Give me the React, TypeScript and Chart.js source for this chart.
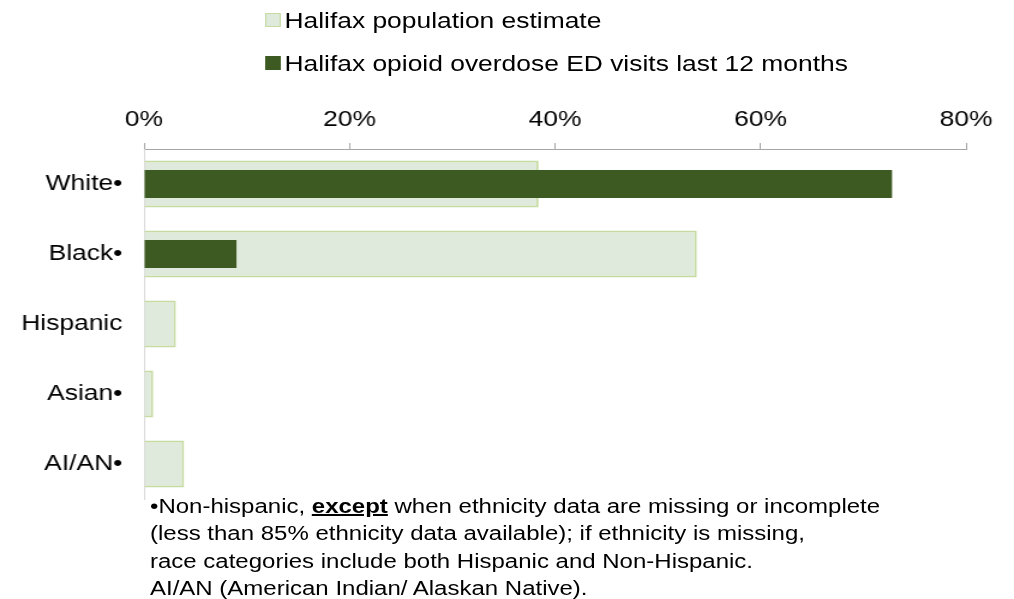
import React, { useEffect, useRef } from "react";
import { Chart, registerables } from "chart.js";

Chart.register(...registerables);

// ---- data ----
const categories = ["White•", "Black•", "Hispanic", "Asian•", "AI/AN•"];
const populationEstimate = [38.4, 53.8, 3.1, 0.9, 3.9];
const edVisits: (number | null)[] = [72.8, 9.0, null, null, null];
const tickValues = [0, 20, 40, 60, 80];
const seriesNames = [
  "Halifax population estimate",
  "Halifax opioid overdose ED visits last 12 months",
];
const footnoteRest1 = " when ethnicity data are missing or incomplete";
const footnoteLines = [
  "(less than 85% ethnicity data available); if ethnicity is missing,",
  "race categories include both Hispanic and Non-Hispanic.",
  "AI/AN (American Indian/ Alaskan Native).",
];

// ---- style ----
const FONT = '"Liberation Sans", Arial, Helvetica, sans-serif';
const LIGHT_FILL = "#E0EADC";
const LIGHT_BORDER = "#C6DBA2";
const DARK_FILL = "#3D5A22";
const BASE_W = 845;
const H = 599;
const STRETCH = 1014 / BASE_W;

export default function App() {
  const canvasRef = useRef<HTMLCanvasElement | null>(null);

  useEffect(() => {
    if (!canvasRef.current) return;
    const chart = new Chart(canvasRef.current, {
      type: "bar",
      data: {
        labels: categories,
        datasets: [
          {
            label: seriesNames[0],
            data: populationEstimate,
            backgroundColor: LIGHT_FILL,
            borderColor: LIGHT_BORDER,
            borderWidth: 2,
            barPercentage: 0.67,
            categoryPercentage: 1,
            order: 2,
          },
          {
            label: seriesNames[1],
            data: edVisits,
            backgroundColor: DARK_FILL,
            borderWidth: 0,
            barPercentage: 0.4,
            categoryPercentage: 1,
            order: 1,
          },
        ],
      },
      options: {
        indexAxis: "y",
        animation: false,
        responsive: true,
        maintainAspectRatio: false,
        layout: { padding: { top: 100, bottom: 100, left: 0, right: 40 } },
        datasets: { bar: { grouped: false } },
        plugins: {
          legend: { display: false },
          tooltip: { enabled: false },
        },
        scales: {
          x: {
            position: "top",
            min: 0,
            max: 80,
            afterBuildTicks: (s: any) => {
              s.ticks = tickValues.map((v) => ({ value: v }));
            },
            afterFit: (s: any) => {
              s.height = 49;
            },
            ticks: {
              callback: (v: any) => v + "%",
              font: { size: 22, family: FONT },
              color: "#000",
              padding: 10,
              maxRotation: 0,
            },
            grid: {
              drawOnChartArea: false,
              drawTicks: true,
              tickLength: 6,
              color: "#a6a6a6",
              lineWidth: 1,
            },
            border: { display: true, color: "#a6a6a6", width: 1 },
          },
          y: {
            afterFit: (s: any) => {
              s.width = 120;
            },
            ticks: {
              font: { size: 22, family: FONT },
              color: "#000",
              padding: 18,
            },
            grid: { display: true, drawOnChartArea: false, drawTicks: false },
            border: { display: true, color: "#d9d9d9", width: 1 },
          },
        },
      },
    } as any);
    return () => chart.destroy();
  }, []);

  const legendText: React.CSSProperties = {
    position: "absolute",
    left: 237,
    fontFamily: FONT,
    fontSize: 22,
    lineHeight: "26px",
    whiteSpace: "nowrap",
    color: "#000",
  };
  const square: React.CSSProperties = {
    position: "absolute",
    left: 221,
    width: 13,
    height: 14,
    boxSizing: "border-box",
  };

  return (
    <div
      style={{
        position: "absolute",
        left: 0,
        top: 0,
        width: BASE_W,
        height: H,
        transform: `scaleX(${STRETCH})`,
        transformOrigin: "0 0",
        background: "#fff",
        overflow: "hidden",
      }}
    >
      <div style={{ position: "absolute", left: 0, top: 0, width: BASE_W, height: H }}>
        <canvas ref={canvasRef} />
      </div>
      <div style={{ ...square, top: 13, background: LIGHT_FILL, border: `1.5px solid ${LIGHT_BORDER}` }} />
      <div style={{ ...legendText, top: 8 }}>{seriesNames[0]}</div>
      <div style={{ ...square, top: 56, background: DARK_FILL }} />
      <div style={{ ...legendText, top: 51 }}>{seriesNames[1]}</div>
      <div
        style={{
          position: "absolute",
          left: 125,
          top: 493,
          fontFamily: FONT,
          fontSize: 20,
          lineHeight: "27.3px",
          whiteSpace: "nowrap",
          color: "#000",
        }}
      >
        <div>
          •Non-hispanic, <b style={{ textDecoration: "underline" }}>except</b>
          {footnoteRest1}
        </div>
        {footnoteLines.map((l) => (
          <div key={l}>{l}</div>
        ))}
      </div>
    </div>
  );
}
